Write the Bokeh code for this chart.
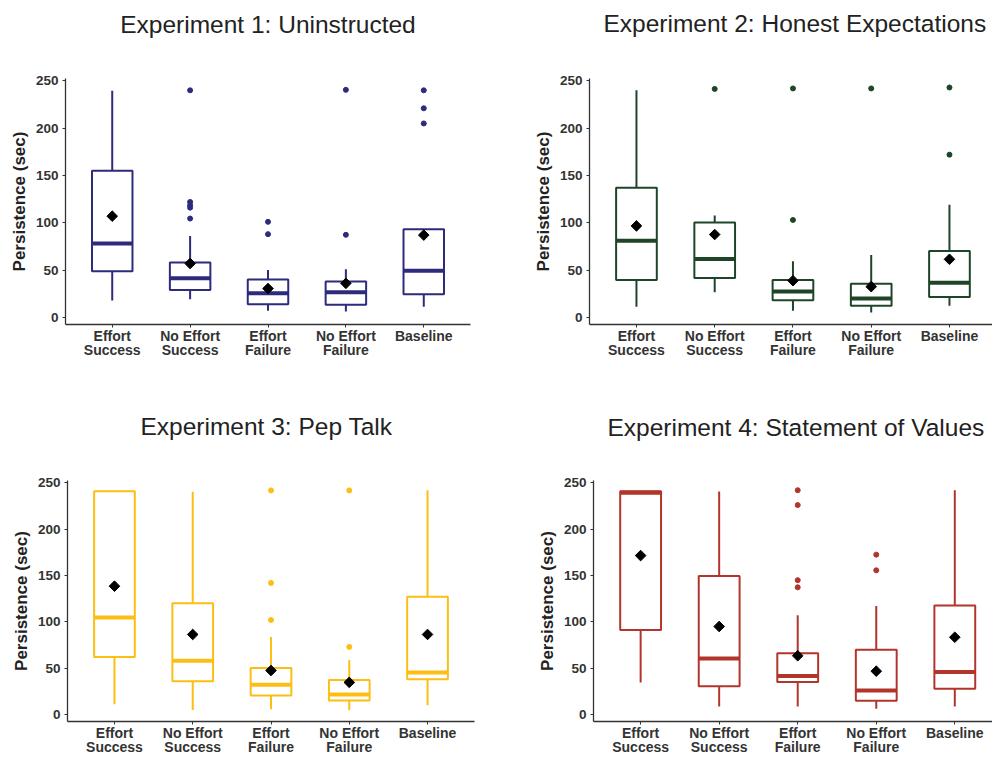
import numpy as np
from bokeh.plotting import figure
from bokeh.layouts import column, row
from bokeh.models import FixedTicker, Range1d, Title
from bokeh.embed import file_html
from bokeh.resources import INLINE

# ---------------- data ----------------
categories = ["Effort\nSuccess", "No Effort\nSuccess", "Effort\nFailure",
              "No Effort\nFailure", "Baseline"]
y_ticks = [0, 50, 100, 150, 200, 250]

exp1_title = "Experiment 1: Uninstructed"
exp1_q1 = [48.7, 29.0, 14.0, 13.3, 24.5]
exp1_med = [78.0, 41.4, 25.6, 26.6, 49.4]
exp1_q3 = [155.0, 57.9, 40.0, 37.9, 93.3]
exp1_lo = [17.9, 19.3, 7.0, 6.3, 11.2]
exp1_hi = [239.5, 86.0, 50.0, 51.0, 93.3]
exp1_mean = [107.0, 57.0, 30.5, 36.0, 87.0]
exp1_out = [[], [240.0, 122.0, 118.5, 116.0, 104.5], [101.0, 88.0], [240.5, 87.3], [240.0, 221.0, 205.0]]

exp2_title = "Experiment 2: Honest Expectations"
exp2_q1 = [39.5, 41.7, 18.0, 12.4, 21.5]
exp2_med = [81.0, 61.8, 27.5, 20.0, 36.7]
exp2_q3 = [137.0, 100.3, 39.5, 35.7, 70.3]
exp2_lo = [11.3, 26.5, 7.0, 5.3, 12.4]
exp2_hi = [240.0, 107.7, 59.3, 66.0, 119.0]
exp2_mean = [96.7, 87.6, 38.8, 32.5, 61.4]
exp2_out = [[], [241.5], [242.0, 103.0], [242.0], [243.0, 172.0]]

exp3_title = "Experiment 3: Pep Talk"
exp3_q1 = [62.0, 35.8, 20.5, 15.2, 38.2]
exp3_med = [104.8, 58.0, 32.2, 21.6, 45.3]
exp3_q3 = [240.8, 120.0, 50.3, 37.2, 127.0]
exp3_lo = [11.0, 5.0, 5.7, 4.6, 10.0]
exp3_hi = [240.8, 240.4, 83.6, 58.8, 242.0]
exp3_mean = [138.5, 86.4, 47.5, 34.7, 86.4]
exp3_out = [[], [], [241.8, 142.0, 102.0], [241.8, 73.0], []]

exp4_title = "Experiment 4: Statement of Values"
exp4_q1 = [91.2, 30.6, 35.2, 14.8, 27.8]
exp4_med = [239.4, 60.6, 41.5, 26.0, 46.0]
exp4_q3 = [241.0, 149.6, 66.2, 70.0, 117.6]
exp4_lo = [34.5, 8.8, 8.8, 6.3, 8.8]
exp4_hi = [241.0, 240.5, 107.0, 117.0, 242.0]
exp4_mean = [171.5, 95.0, 63.4, 46.8, 83.4]
exp4_out = [[], [], [242.0, 226.0, 145.0, 137.3], [172.5, 155.6], []]

FONT = "Liberation Sans"
BOX_W = 0.52


def make_panel(title, q1, med, q3, lo, hi, mean, outs, color,
               width, height, borders, x_end, title_align, title_offset,
               title_gap):
    left, right, top, bottom = borders
    p = figure(width=width, height=height, output_backend="svg",
               toolbar_location=None, x_range=Range1d(0.4, x_end),
               y_range=Range1d(-7.5, 252.5), title=None,
               min_border_left=left, min_border_right=right,
               min_border_top=top, min_border_bottom=bottom)
    pos = np.arange(1, len(categories) + 1)

    p.segment(pos, q3, pos, hi, line_color=color, line_width=2)
    p.segment(pos, lo, pos, q1, line_color=color, line_width=2)
    p.vbar(x=pos, width=BOX_W, bottom=q1, top=q3, fill_color="white",
           line_color=color, line_width=2)
    p.segment(pos - BOX_W / 2, med, pos + BOX_W / 2, med,
              line_color=color, line_width=4)

    ox, oy = [], []
    for i, vals in enumerate(outs):
        ox += [pos[i]] * len(vals)
        oy += vals
    p.scatter(ox, oy, size=5, color=color, marker="circle")
    p.scatter(pos, mean, size=7.5, marker="square", angle=np.pi / 4,
              color="black")

    # spacer between frame and title, then the title itself
    p.add_layout(Title(text=" ", text_font_size="1px", standoff=title_gap), "above")
    p.add_layout(Title(text=title, text_font=FONT, text_font_size="24.5px",
                       text_font_style="normal", text_color="#222222",
                       align=title_align, offset=title_offset, standoff=0),
                 "above")

    p.outline_line_color = None
    p.grid.visible = False
    p.background_fill_color = "white"
    p.border_fill_color = "white"

    for ax in (p.xaxis[0], p.yaxis[0]):
        ax.axis_line_color = "#333333"
        ax.axis_line_width = 1.3
        ax.major_tick_line_color = "#333333"
        ax.major_tick_out = 3
        ax.major_tick_in = 0
        ax.minor_tick_line_color = None
        ax.major_label_text_font = FONT
        ax.major_label_text_font_style = "bold"
        ax.major_label_text_color = "#333333"

    p.xaxis.ticker = FixedTicker(ticks=list(pos))
    p.xaxis.major_label_overrides = {int(k): c for k, c in zip(pos, categories)}
    p.xaxis.major_label_text_font_size = "14px"
    p.xaxis.major_label_text_line_height = 0.9
    p.xaxis.major_label_standoff = 0

    p.yaxis.ticker = FixedTicker(ticks=y_ticks)
    p.yaxis.major_label_text_font_size = "13.5px"
    p.yaxis.major_label_standoff = 4
    p.yaxis.axis_label = "Persistence (sec)"
    p.yaxis.axis_label_text_font = FONT
    p.yaxis.axis_label_text_font_style = "bold"
    p.yaxis.axis_label_text_font_size = "17px"
    p.yaxis.axis_label_text_color = "#222222"
    p.yaxis.axis_label_standoff = 4
    return p


p1 = make_panel(exp1_title, exp1_q1, exp1_med, exp1_q3, exp1_lo, exp1_hi,
                exp1_mean, exp1_out, "#2D2B7C", 496, 378, (65, 26, 78, 54),
                5.6, "center", 0, 38)
p2 = make_panel(exp2_title, exp2_q1, exp2_med, exp2_q3, exp2_lo, exp2_hi,
                exp2_mean, exp2_out, "#1F4528", 496, 378, (93, 0, 78, 54),
                5.55, "left", 14, 39)
p3 = make_panel(exp3_title, exp3_q1, exp3_med, exp3_q3, exp3_lo, exp3_hi,
                exp3_mean, exp3_out, "#FDBE14", 496, 379, (67, 22, 102, 31),
                5.6, "left", 73, 38)
p4 = make_panel(exp4_title, exp4_q1, exp4_med, exp4_q3, exp4_lo, exp4_hi,
                exp4_mean, exp4_out, "#B2352B", 496, 379, (97, 0, 102, 31),
                5.48, "left", 14, 37)

layout = column(row(p1, p2, spacing=0), row(p3, p4, spacing=0), spacing=0)

open("out.html", "w").write(file_html(layout, INLINE))
